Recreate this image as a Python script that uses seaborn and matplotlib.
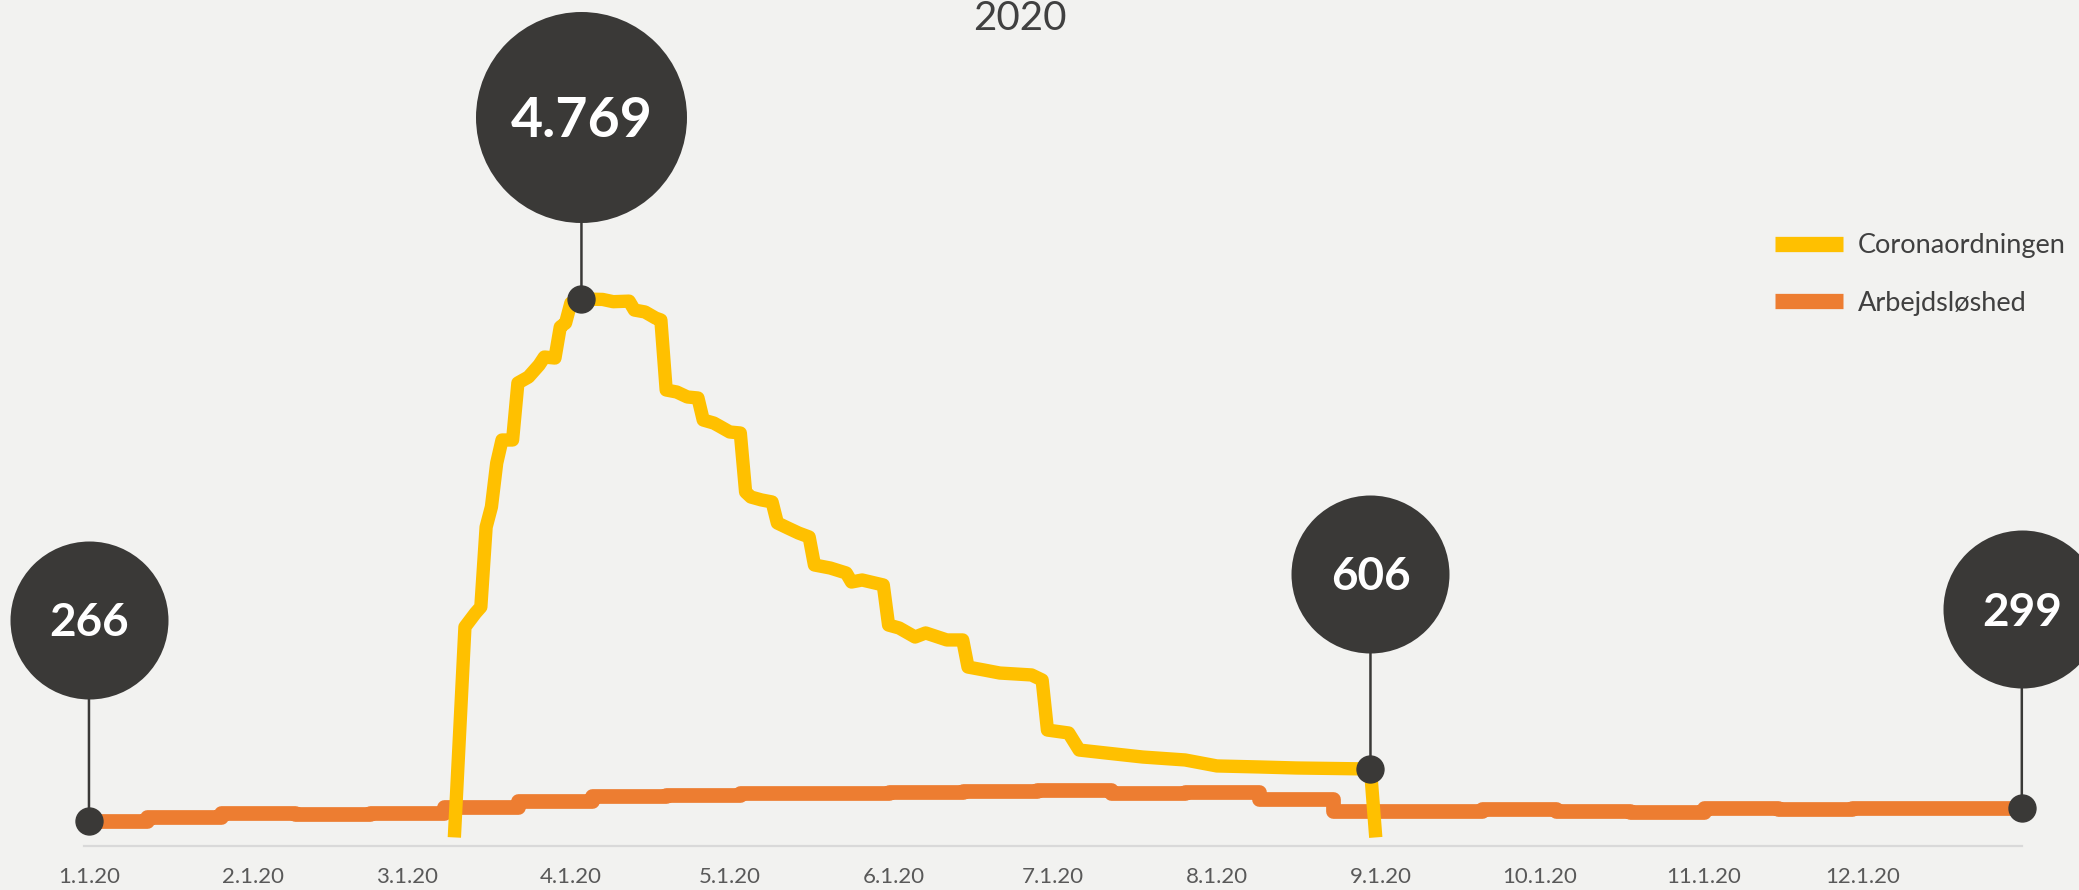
import pandas as pd
import matplotlib
matplotlib.use("Agg")
import matplotlib.pyplot as plt
import matplotlib.dates as mdates
from matplotlib.lines import Line2D
from matplotlib.transforms import ScaledTranslation
import seaborn as sns

# ---------------- data ----------------
title = "2020"
corona_label = "Coronaordningen"
unemp_label = "Arbejdsløshed"

corona_dates = [
    "2020-03-10", "2020-03-12", "2020-03-14", "2020-03-15", "2020-03-16",
    "2020-03-17", "2020-03-18", "2020-03-19", "2020-03-21", "2020-03-22", "2020-03-24",
    "2020-03-26", "2020-03-27", "2020-03-29", "2020-03-30", "2020-03-31", "2020-04-01",
    "2020-04-03", "2020-04-07", "2020-04-09", "2020-04-12", "2020-04-13", "2020-04-15",
    "2020-04-17", "2020-04-18", "2020-04-19", "2020-04-21", "2020-04-23", "2020-04-25",
    "2020-04-26", "2020-04-28", "2020-04-29", "2020-05-01", "2020-05-03", "2020-05-04",
    "2020-05-05", "2020-05-07", "2020-05-09", "2020-05-10", "2020-05-12", "2020-05-14",
    "2020-05-16", "2020-05-17", "2020-05-20", "2020-05-23", "2020-05-24", "2020-05-26",
    "2020-05-30", "2020-05-31", "2020-06-02", "2020-06-05", "2020-06-07", "2020-06-11",
    "2020-06-14", "2020-06-15", "2020-06-18", "2020-06-21", "2020-06-27", "2020-06-29",
    "2020-06-30", "2020-07-04", "2020-07-06", "2020-07-11", "2020-07-18", "2020-07-26",
    "2020-08-01", "2020-08-09", "2020-08-16", "2020-08-24", "2020-08-30", "2020-08-31",
]
corona_values = [
    0, 1864, 1988, 2041, 2749,
    2927, 3316, 3520, 3520, 4025, 4078,
    4184, 4255, 4246, 4521, 4556, 4733,
    4769, 4765, 4745, 4750, 4671, 4654,
    4600, 4583, 3963, 3945, 3901, 3892,
    3697, 3670, 3644, 3591, 3582, 3059,
    3015, 2989, 2971, 2785, 2740, 2696,
    2661, 2413, 2386, 2342, 2262, 2280,
    2236, 1881, 1855, 1775, 1811, 1749,
    1749, 1509, 1483, 1456, 1439, 1394,
    951, 925, 774, 748, 712, 686,
    633, 624, 615, 610, 606, 0,
]

unemp_dates = [
    "2020-01-01", "2020-01-12", "2020-01-26", "2020-02-09", "2020-02-23", "2020-03-08",
    "2020-03-22", "2020-04-05", "2020-04-19", "2020-05-03", "2020-05-17", "2020-05-31",
    "2020-06-14", "2020-06-28", "2020-07-12", "2020-07-26", "2020-08-09", "2020-08-23",
    "2020-09-06", "2020-09-20", "2020-10-04", "2020-10-18", "2020-11-01", "2020-11-15",
    "2020-11-29", "2020-12-13", "2020-12-31",
]
unemp_values = [
    266, 275, 286, 284, 286, 303,
    319, 332, 334, 341, 340, 343,
    345, 347, 341, 343, 324, 293,
    293, 296, 292, 290, 299, 298,
    300, 299, 299,
]

tick_dates = ["2020-01-01", "2020-02-01", "2020-03-01", "2020-04-01", "2020-05-01",
              "2020-06-01", "2020-07-01", "2020-08-01", "2020-09-01", "2020-10-01",
              "2020-11-01", "2020-12-01"]
tick_labels = ["1.1.20", "2.1.20", "3.1.20", "4.1.20", "5.1.20", "6.1.20",
               "7.1.20", "8.1.20", "9.1.20", "10.1.20", "11.1.20", "12.1.20"]

callout_series = [unemp_label, corona_label, corona_label, unemp_label]
callout_dates = ["2020-01-01", "2020-04-03", "2020-08-30", "2020-12-31"]
callout_labels = ["266", "4.769", "606", "299"]

# ---------------- style ----------------
BG = "#F2F2F0"
YELLOW = "#FFC000"
ORANGE = "#ED7D31"
DARK = "#3A3937"
W, H, DPI = 2079, 890, 100

callout_offset_px = [201, 182, 195, 199]
callout_diam_px = [158, 211, 158, 158]
callout_font = [33, 40, 33, 33]

sns.set_theme(style="white")
plt.rcParams["font.family"] = ["Lato", "DejaVu Sans"]

fig = plt.figure(figsize=(W / DPI, H / DPI), dpi=DPI, facecolor=BG)
ax_bottom_px, ax_top_px = 846, 20
ax = fig.add_axes([0, 1 - ax_bottom_px / H, 1, (ax_bottom_px - ax_top_px) / H])
ax.set_facecolor(BG)
ax2 = ax.twinx()
ax2.patch.set_visible(False)

udf = pd.DataFrame({"date": pd.to_datetime(unemp_dates), "value": unemp_values})
cdf = pd.DataFrame({"date": pd.to_datetime(corona_dates), "value": corona_values})

sns.lineplot(data=udf, x="date", y="value", ax=ax, color=ORANGE, linewidth=10.6,
             drawstyle="steps-post", estimator=None, sort=False,
             solid_joinstyle="round", solid_capstyle="butt", legend=False)
sns.lineplot(data=cdf, x="date", y="value", ax=ax2, color=YELLOW, linewidth=9.6,
             estimator=None, sort=False,
             solid_joinstyle="round", solid_capstyle="butt", legend=False)

# axis scales
start = pd.Timestamp("2020-01-01")
x0 = mdates.date2num(start)
ax.set_xlim(x0 - 16.8, x0 + 375.8)
ax.set_ylim(198.7, 2396.6)
ax2.set_ylim(-76, 7240)

for a in (ax, ax2):
    a.set_xlabel("")
    a.set_ylabel("")
    a.set_yticks([])
    for s in a.spines.values():
        s.set_visible(False)

ax.spines["bottom"].set_visible(True)
ax.spines["bottom"].set_color("#D9D9D9")
ax.spines["bottom"].set_linewidth(1.6)
ax.spines["bottom"].set_bounds(x0 - 0.95, x0 + 365)

ax.set_xticks(pd.to_datetime(tick_dates))
ax.set_xticklabels(tick_labels)
ax.tick_params(axis="x", length=0, pad=15, labelsize=16, labelcolor="#595959")
ax2.tick_params(axis="x", length=0, labelbottom=False)

# callouts
series_map = {unemp_label: (ax, udf), corona_label: (ax2, cdf)}
for ser, d, lab, off, diam, fs in zip(callout_series, callout_dates, callout_labels,
                                      callout_offset_px, callout_diam_px, callout_font):
    a, df = series_map[ser]
    dt = pd.Timestamp(d)
    val = df.loc[df["date"] == dt, "value"].iloc[0]
    a.annotate("", xy=(dt, val), xytext=(0, off), textcoords="offset pixels",
               arrowprops=dict(arrowstyle="-", lw=1.8, color=DARK, shrinkA=0, shrinkB=0),
               zorder=5, annotation_clip=False)
    a.plot([dt], [val], marker="o", markersize=19.4, color=DARK, linestyle="none",
           zorder=6, clip_on=False)
    shift = ScaledTranslation(0, off / DPI, fig.dpi_scale_trans)
    a.plot([dt], [val], marker="o", markersize=diam * 72 / DPI, color=DARK,
           markeredgewidth=0, linestyle="none", zorder=7, clip_on=False,
           transform=a.transData + shift)
    cap = 0.72 * fs * DPI / 72
    a.annotate(lab, xy=(dt, val), xytext=(0, off - cap / 2), textcoords="offset pixels",
               ha="center", va="baseline", color="white", fontsize=fs,
               fontweight="bold", zorder=8, annotation_clip=False)

# title
fig.text(1020 / W, 1 - 18 / H, title, ha="center", va="center", fontsize=29,
         color="#404040")

# legend
handles = [Line2D([], [], color=YELLOW, lw=11, solid_capstyle="butt"),
           Line2D([], [], color=ORANGE, lw=11, solid_capstyle="butt")]
fig.legend(handles, [corona_label, unemp_label], loc="upper left",
           bbox_to_anchor=(1775 / W, 1 - 233 / H), frameon=False, fontsize=19.5,
           handlelength=2.5, handletextpad=0.55, labelspacing=1.2,
           borderpad=0, borderaxespad=0, labelcolor="#404040")

fig.savefig("out.png", dpi=DPI, facecolor=BG)
